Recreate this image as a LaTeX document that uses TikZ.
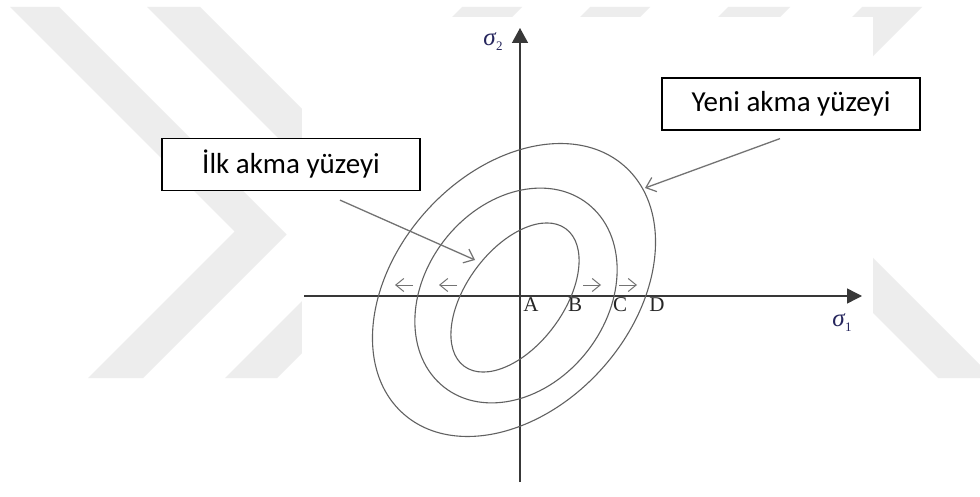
\documentclass[tikz,border=0pt]{standalone}
\usepackage{fontspec}
\setmainfont{Carlito}
\newfontfamily\timesf{Liberation Serif}
\usetikzlibrary{arrows.meta}
\begin{document}
\begin{tikzpicture}[x=1pt,y=-1pt,
  wm/.style={fill=black!7, draw=none},
  axis/.style={draw=black!78, line width=1.4pt},
  surf/.style={draw=black!62, line width=1.1pt},
  callout/.style={draw=black, line width=1.2pt, fill=white, minimum width=258pt, minimum height=52pt, inner sep=0pt, font=\fontsize{29}{32}\selectfont},
  pointer/.style={draw=black!55, line width=1.3pt, -{Straight Barb[length=9pt,width=15pt,line width=1.2pt]}},
  flow/.style={draw=black!55, line width=1pt, -{Straight Barb[length=8pt,width=13pt]}},
  lbl/.style={font=\timesf\fontsize{21}{22}\selectfont, text=black!85, inner sep=0pt},
  sig/.style={font=\timesf\itshape\fontsize{25}{26}\selectfont, text=blue!25!black!85, inner sep=0pt}]
\useasboundingbox (0,0) rectangle (980,497);
\fill[white] (0,0) rectangle (980,497);
% watermark
\begin{scope}
\clip (0,7) rectangle (980,378);
\fill[wm] (10,7) -- (59,7) -- (286.5,234.5) -- (143,378) -- (88,378) -- (234.5,231.5) -- cycle;
\fill[wm] (147,7) -- (200,7) -- (424,231) -- (277,378) -- (225,378) -- (371.5,231.5) -- cycle;
\fill[wm] (462,7) -- (522,7) -- (490,39) -- (430,39) -- cycle;
\fill[wm] (590,7) -- (650,7) -- (618,39) -- (558,39) -- cycle;
\fill[wm] (728,7) -- (790,7) -- (758,39) -- (696,39) -- cycle;
\fill[wm] (862,7) -- (922,7) -- (800,129) -- (740,129) -- cycle;
\fill[wm] (745,185) -- (800,185) -- (993,378) -- (938,378) -- cycle;
\end{scope}
\fill[white] (302,17) rectangle (873,497);
% axes
\coordinate (xs) at (304,296);
\coordinate (xe) at (862,296);
\coordinate (ys) at (520,482);
\coordinate (ye) at (520,28);
\draw[axis, -{Triangle[length=15pt,width=15pt]}] (xs) -- (xe);
\draw[axis, -{Triangle[length=15pt,width=16pt]}] (ys) -- (ye);
% yield surfaces
\draw[surf, rotate around={48:(514,290)}] (514,290) ellipse [x radius=166pt, y radius=118pt];
\draw[surf, rotate around={52:(516,295.5)}] (516,295.5) ellipse [x radius=116.5pt, y radius=90.5pt];
\draw[surf, rotate around={53.5:(515,297.5)}] (515,297.5) ellipse [x radius=85.5pt, y radius=48.5pt];
% labels
\node[sig] (s2) at (493,42) {σ\kern0.5pt\raisebox{-5pt}{\upshape\fontsize{13}{13}\selectfont 2}};
\node[sig] (s1) at (842,323) {σ\kern0.5pt\raisebox{-5pt}{\upshape\fontsize{13}{13}\selectfont 1}};
\node[lbl] (A) at (531,305) {A};
\node[lbl] (B) at (575,305) {B};
\node[lbl] (C) at (620,305) {C};
\node[lbl] (D) at (657,305) {D};
% small flow arrows
\coordinate (f1s) at (413,285); \coordinate (f1e) at (395,285);
\coordinate (f2s) at (457,285); \coordinate (f2e) at (439,285);
\coordinate (f3s) at (583,285); \coordinate (f3e) at (601,285);
\coordinate (f4s) at (619,285); \coordinate (f4e) at (637,285);
\draw[flow] (f1s) -- (f1e);
\draw[flow] (f2s) -- (f2e);
\draw[flow] (f3s) -- (f3e);
\draw[flow] (f4s) -- (f4e);
% callouts
\node[callout] (ilk) at (291,164.5) {İlk akma yüzeyi};
\node[callout] (yeni) at (791,104) {Yeni akma yüzeyi};
\coordinate (ilkTip) at (475,260);
\coordinate (yeniTip) at (645,188);
\draw[pointer] ([shift={(49,9)}]ilk.south) -- (ilkTip);
\draw[pointer] ([shift={(-11,8)}]yeni.south) -- (yeniTip);
\end{tikzpicture}
\end{document}
